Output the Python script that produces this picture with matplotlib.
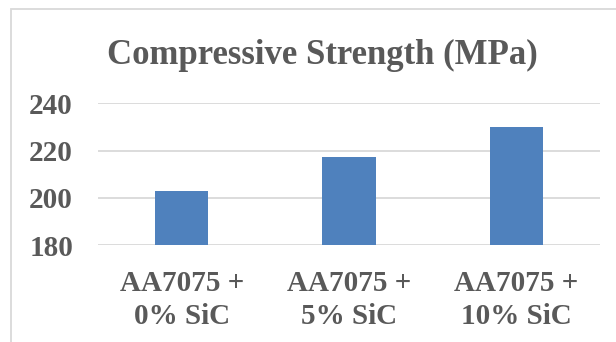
import numpy as np
import matplotlib.pyplot as plt
from matplotlib.patches import Rectangle

## DATA
categories = ["AA7075 +\n0% SiC", "AA7075 +\n5% SiC", "AA7075 +\n10% SiC"]
strength = [203, 217.5, 230]
y_ticks = [180, 200, 220, 240]

text_color = "#595959"
bar_color = "#4f81bd"
grid_color = "#d9d9d9"

plt.rcParams['font.family'] = ['Liberation Serif', 'DejaVu Serif']
plt.rcParams['font.weight'] = 'bold'

fig = plt.figure(figsize=(6.16, 3.42), dpi=100)
ax = fig.add_axes([98 / 616, 1 - 245.3 / 342, 502 / 616, (245.3 - 103.3) / 342])

x = np.arange(len(categories))
ax.bar(x, strength, width=0.32, color=bar_color, zorder=3)

ax.set_ylim(180, 240)
ax.set_xlim(-0.5, len(categories) - 0.5)
ax.set_yticks(y_ticks)
ax.set_xticks(x)
ax.set_xticklabels(categories, linespacing=1.25)
ax.tick_params(axis='both', length=0, colors=text_color, labelsize=21)
ax.tick_params(axis='x', pad=18)
ax.tick_params(axis='y', pad=18)
for lbl in ax.get_xticklabels() + ax.get_yticklabels():
    lbl.set_fontweight('bold')

ax.grid(axis='y', color=grid_color, linewidth=1.3, zorder=0)
for side in ['top', 'right', 'left', 'bottom']:
    ax.spines[side].set_visible(False)

fig.text(322 / 616, 1 - 55 / 342, "Compressive Strength (MPa)", ha='center', va='center',
         fontsize=25, fontweight='bold', color=text_color)

# chart area frame, only top and left edges fall inside the image
fig.patches.append(Rectangle((11 / 616, -0.1), 1.2, 1 - 9 / 342 + 0.1, transform=fig.transFigure,
                             fill=False, edgecolor=grid_color, linewidth=1.3))

fig.savefig("out.png", dpi=100)
